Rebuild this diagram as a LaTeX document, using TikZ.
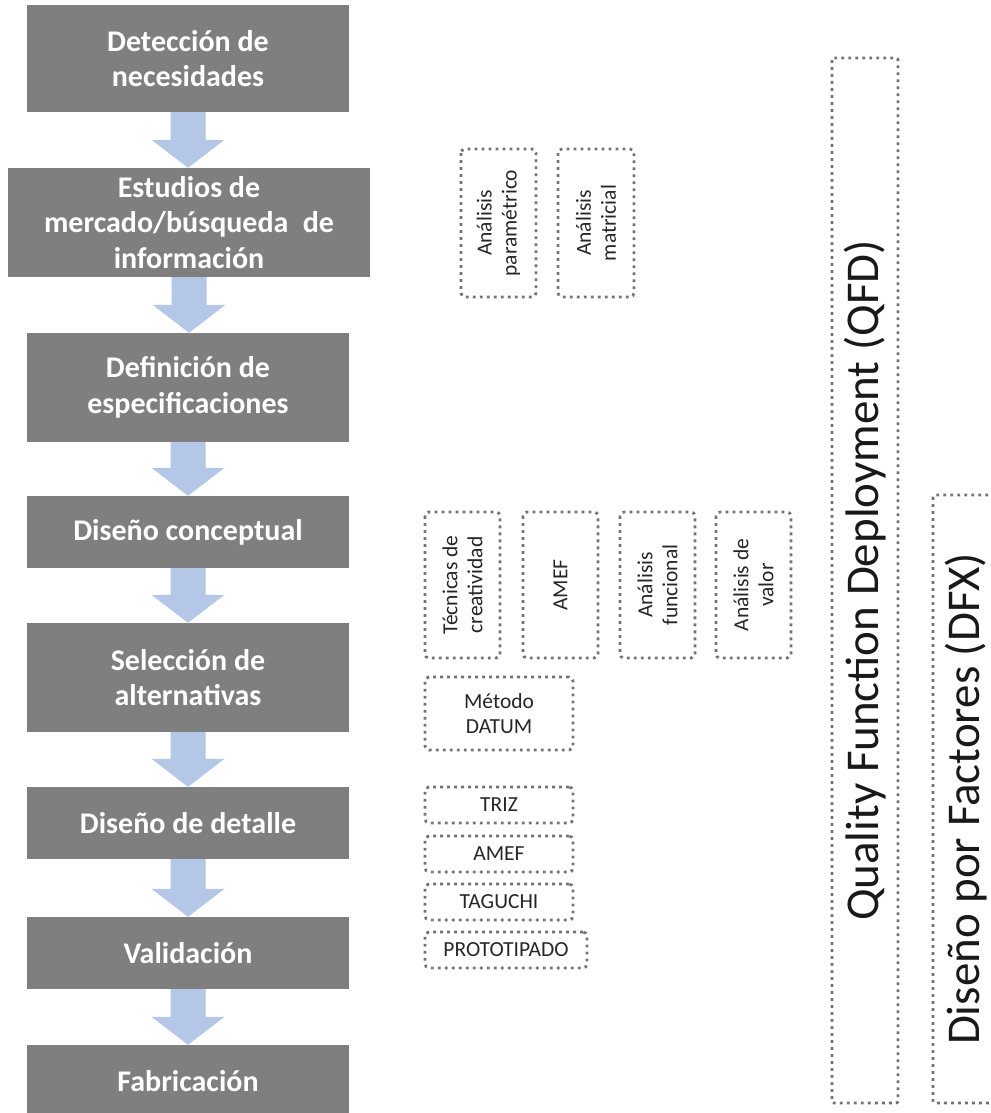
\documentclass[tikz,border=0pt]{standalone}
\usepackage{fontspec}
\setmainfont{Carlito}
\usetikzlibrary{calc}
\definecolor{stepgray}{HTML}{7F7F7F}
\definecolor{flowblue}{HTML}{B4C7E7}
\definecolor{dotline}{HTML}{737373}
\definecolor{toolink}{HTML}{262626}
% filled block arrow from the bottom of one stage to the top of the next
\newcommand\flowarrow[2]{%
  \fill[flow] let \p1=(#1.south), \p2=(#2.north) in
    (\x1-17.5pt,\y1) -- (\x1+17.5pt,\y1) -- (\x1+17.5pt,\y2+28pt) --
    (\x1+36.5pt,\y2+28pt) -- (\x1,\y2) -- (\x1-36.5pt,\y2+28pt) --
    (\x1-17.5pt,\y2+28pt) -- cycle;}
\begin{document}
\begin{tikzpicture}[x=1pt,y=-1pt,
  stage/.style={fill=stepgray, text=white, inner sep=0pt, align=center,
    minimum width=322pt, font=\fontsize{30}{35.5}\selectfont\bfseries},
  tool/.style={draw=dotline, line width=2.8pt, dash pattern=on 2.8pt off 4.2pt,
    rounded corners=4pt, inner sep=0pt, align=center, text=toolink,
    font=\fontsize{21.5}{25}\selectfont},
  vtool/.style={tool, rotate=90},
  method/.style={draw=dotline, line width=2.8pt, dash pattern=on 2.8pt off 4.2pt,
    rounded corners=2pt, inner sep=0pt, rotate=90, text=black!90,
    font=\fontsize{47}{56}\selectfont},
  flow/.style={fill=flowblue}
]
\useasboundingbox (0,0) rectangle (990,1113);
\begin{scope}
\clip (0,0) rectangle (990,1113);

% design stages
\node[stage, minimum height=107pt] (s1) at (188,58.5) {Detección de\\necesidades};
\node[stage, minimum width=362pt, minimum height=109pt] (s2) at (189,222.5)
  {Estudios de\\mercado/búsqueda\hspace{0.25em} de\\información};
\node[stage, minimum height=109pt] (s3) at (188,387.5) {Definición de\\especificaciones};
\node[stage, minimum height=72pt] (s4) at (188,532) {Diseño conceptual};
\node[stage, minimum height=109pt] (s5) at (188,677.5) {Selección de\\alternativas};
\node[stage, minimum height=72pt] (s6) at (188,823) {Diseño de detalle};
\node[stage, minimum height=72pt] (s7) at (188,953) {Validación};
\node[stage, minimum height=72pt] (s8) at (188,1081) {Fabricación};

\flowarrow{s1}{s2}
\flowarrow{s2}{s3}
\flowarrow{s3}{s4}
\flowarrow{s4}{s5}
\flowarrow{s5}{s6}
\flowarrow{s6}{s7}
\flowarrow{s7}{s8}

% tools used at each stage
\node[vtool, minimum width=148pt, minimum height=75pt] (t1) at (498.5,223) {Análisis\\paramétrico};
\node[vtool, minimum width=148pt, minimum height=76pt] (t2) at (596,223) {Análisis\\matricial};
\node[vtool, minimum width=146pt, minimum height=75pt] (t3) at (462.5,585) {Técnicas de\\creatividad};
\node[vtool, minimum width=146pt, minimum height=75pt] (t4) at (560.5,585) {AMEF};
\node[vtool, minimum width=146pt, minimum height=75pt] (t5) at (657.5,585) {Análisis\\funcional};
\node[vtool, minimum width=146pt, minimum height=75pt] (t6) at (753.5,585) {Análisis de\\valor};
\node[tool, minimum width=148pt, minimum height=73pt] (t7) at (499,713.5) {Método\\DATUM};
\node[tool, minimum width=148pt, minimum height=36pt] (t8) at (499,805) {TRIZ};
\node[tool, minimum width=148pt, minimum height=36pt] (t9) at (499,854) {AMEF};
\node[tool, minimum width=148pt, minimum height=36pt] (t10) at (499,902) {TAGUCHI};
\node[tool, minimum width=162pt, minimum height=36pt] (t11) at (506,950) {PROTOTIPADO};

% methodologies spanning the whole process
\node[method, minimum width=1045pt, minimum height=66pt] (qfd) at (865,580.5)
  {Quality Function Deployment (QFD)};
\node[method, minimum width=608pt, minimum height=66pt] (dfx) at (966,799)
  {Diseño por Factores (DFX)};
\end{scope}
\end{tikzpicture}
\end{document}
